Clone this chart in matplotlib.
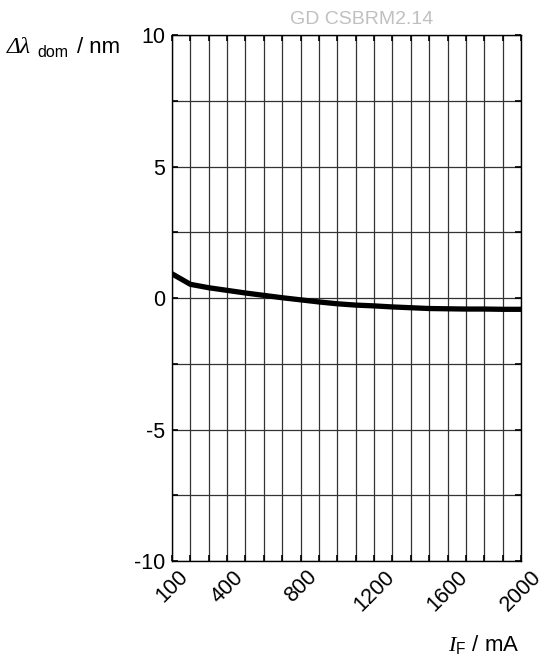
import numpy as np
from matplotlib import pyplot as plt

plt.rcParams['font.family'] = ['Liberation Sans', 'DejaVu Sans']
plt.rcParams['mathtext.fontset'] = 'custom'
plt.rcParams['mathtext.it'] = 'Liberation Serif:italic'
plt.rcParams['mathtext.rm'] = 'Liberation Sans'

# forward current in mA and shift of dominant wavelength in nm
current_ma = [100, 200, 300, 400, 500, 600, 700, 800, 900, 1000,
              1100, 1200, 1300, 1400, 1500, 1600, 1700, 1800, 1900, 2000]
delta_lambda = [0.92, 0.52, 0.39, 0.29, 0.19, 0.10, 0.01, -0.07, -0.15, -0.22,
                -0.27, -0.30, -0.34, -0.37, -0.40, -0.41, -0.42, -0.42, -0.43, -0.43]

x_labels = [100, 400, 800, 1200, 1600, 2000]
y_labels = [-10, -5, 0, 5, 10]

fig = plt.figure(figsize=(5.47, 6.59), dpi=100)
ax = fig.add_axes([172 / 547, 1 - 561 / 659, 349 / 547, 526 / 659])

ax.set_xlim(100, 2000)
ax.set_ylim(-10, 10)

# every 100 mA gets a grid line, only some get a label
ax.set_xticks(np.arange(100, 2001, 100))
ax.set_xticklabels([str(v) if v in x_labels else "" for v in range(100, 2001, 100)],
                   rotation=45, ha="center", va="top", fontsize=15.5)
ax.set_yticks(np.arange(-10, 10.1, 2.5))
ax.set_yticklabels([str(int(v)) if v in y_labels else "" for v in np.arange(-10, 10.1, 2.5)],
                   fontsize=15.5)

ax.grid(True, color="#333333", linewidth=0.9)
ax.tick_params(direction="in", length=4, width=1.2, top=True, right=True, pad=5)
ax.tick_params(axis="x", pad=4)
for s in ax.spines.values():
    s.set_linewidth(1.0)

ax.plot(current_ma, delta_lambda, color="k", linewidth=3.8, solid_capstyle="round")

fig.text(362 / 547, 1 - 20 / 659, "GD CSBRM2.14", color="#c0c0c0",
         fontsize=14, ha="center", va="center")

# y axis label built from pieces: italic symbol, subscript, unit
fig.text(7 / 547, 1 - 53 / 659, "\u0394\u03bb", fontsize=17, style="italic",
         family="Liberation Serif", ha="left", va="baseline")
fig.text(37 / 547, 1 - 57 / 659, "dom", fontsize=11.5, ha="left", va="baseline")
fig.text(77 / 547, 1 - 53 / 659, "/ nm", fontsize=16, ha="left", va="baseline")

fig.text(519 / 547, 1 - 651 / 659, r"$\mathit{I}_{\rm F}$ / mA",
         fontsize=16, ha="right", va="baseline")

fig.savefig("out.png", dpi=100)
